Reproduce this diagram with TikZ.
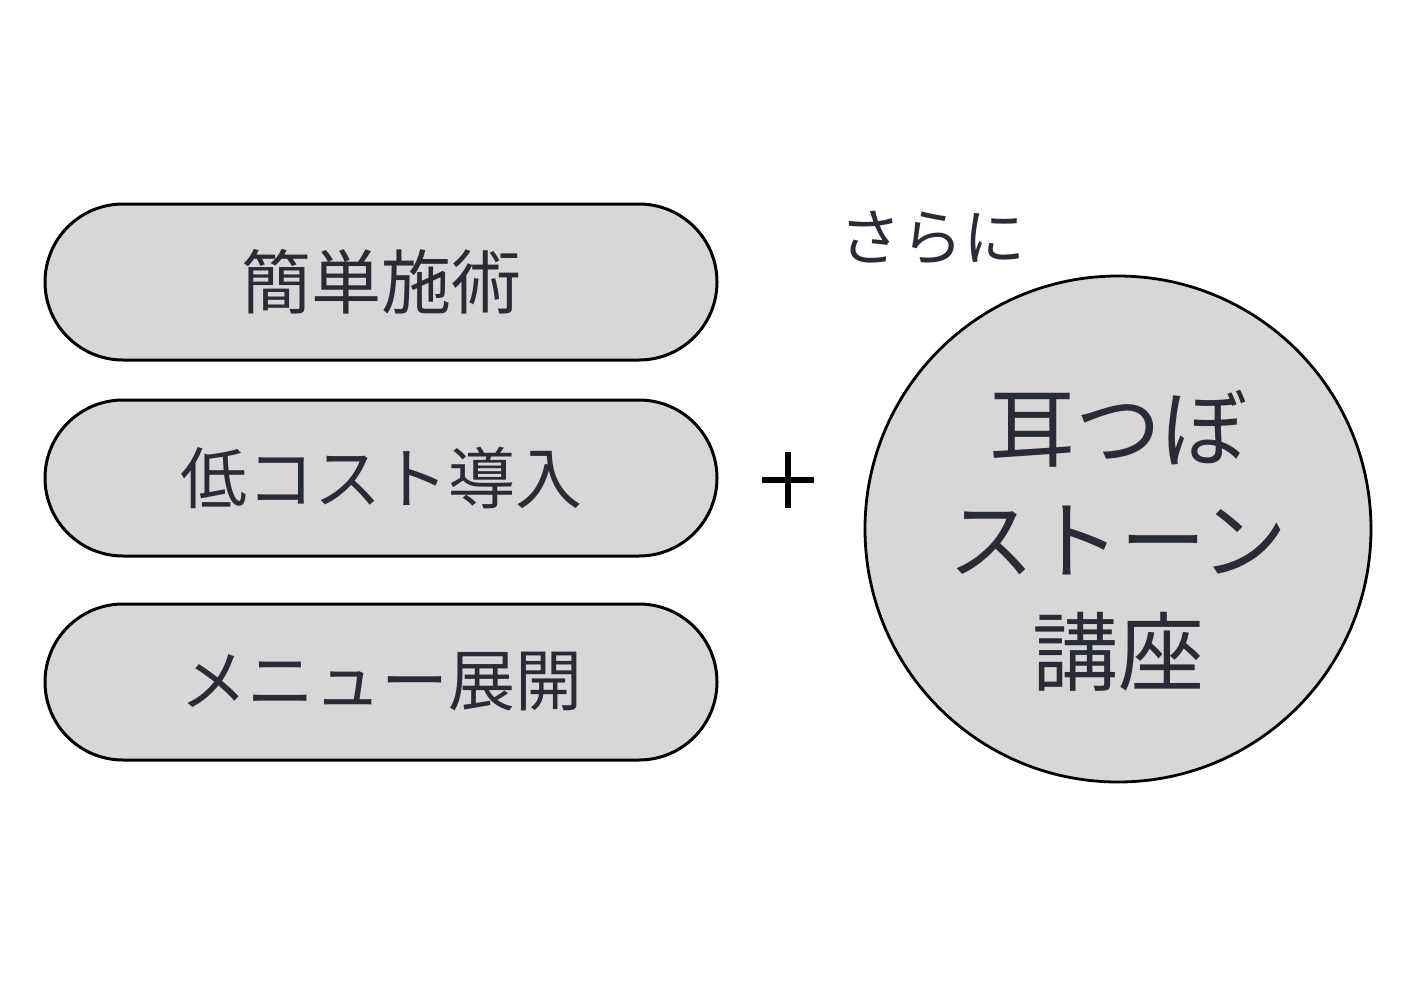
\documentclass[tikz,border=0pt]{standalone}
\usepackage{fontspec}
\newfontfamily\jpfont{Noto Sans CJK JP}
\usepackage{tikz}
\usetikzlibrary{shapes.misc}
\definecolor{grisPildora}{HTML}{D9D6D8}
\definecolor{tintaOsc}{HTML}{2A2C35}

\begin{document}
\begin{tikzpicture}[x=0.5pt, y=-0.5pt,
    pildora/.style={rounded rectangle, draw=black, line width=1.5pt, fill=grisPildora,
                    minimum width=336pt, minimum height=78pt, inner sep=0pt,
                    font=\jpfont\fontsize{33.5}{33.5}\selectfont, text=tintaOsc},
    circulo/.style={circle, draw=black, line width=1.4pt, fill=grisPildora,
                    minimum size=253pt, inner sep=0pt},
    textoCirculo/.style={align=center, inner sep=0pt,
                    font=\jpfont\fontsize{43}{56}\selectfont, text=tintaOsc},
    etiqueta/.style={font=\jpfont\fontsize{31}{31}\selectfont, text=tintaOsc},
    mas/.style={line width=2.6pt, draw=black}
  ]
  \useasboundingbox (0,0) rectangle (1425,986);

  % Columna de pildoras
  \node[pildora, font=\jpfont\fontsize{35}{35}\selectfont] (simple) at (381,282) {簡単施術};
  \node[pildora] (costo) at (381,478) {低コスト導入};
  \node[pildora] (menu) at (381,682) {メニュー展開};

  % Signo mas
  \coordinate (cruz) at (788,480);
  \draw[mas] ([xshift=-13pt]cruz) -- ([xshift=13pt]cruz);
  \draw[mas] ([yshift=14pt]cruz) -- ([yshift=-14pt]cruz);

  % Circulo
  \node[circulo] (curso) at (1118,529) {};
  \node[textoCirculo] (nombre) at (1118,541) {耳つぼ\\ストーン\\講座};
  \node[etiqueta] (ademas) at (932,238) {さらに};
\end{tikzpicture}
\end{document}
